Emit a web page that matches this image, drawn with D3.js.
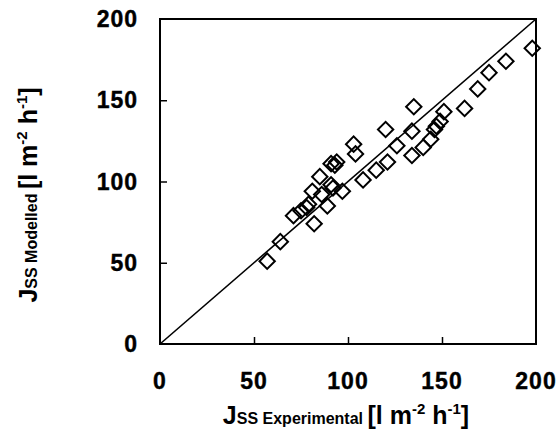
<!DOCTYPE html>
<html>
<head>
<meta charset="utf-8">
<script src="https://cdn.jsdelivr.net/npm/d3@7"></script>
<style>
  body { margin: 0; background: #fff; }
  svg text { font-family: "Liberation Sans", Arial, sans-serif; font-weight: bold; fill: #000; }
</style>
</head>
<body>
<svg id="chart" width="559" height="435"></svg>
<script>
// experimental vs modelled flux
var jExperimental = [57, 64, 71, 75, 79, 82, 85, 81, 89, 92, 91, 94, 93, 91, 97, 103, 104, 108, 115, 121,
    120, 126, 134, 135, 134, 144, 147, 149, 146, 140, 151, 162, 169, 175, 184, 198, 78, 86];
var jModelled = [51, 63, 79, 82, 86, 74, 103, 94, 85, 96, 111, 112, 110, 98, 94, 123, 117, 101, 107, 112,
    132, 122, 131, 146, 116, 126, 134, 137, 132, 121, 143, 145, 157, 167, 174, 182, 84, 92];
var xTicks = [0, 50, 100, 150, 200];
var yTicks = [0, 50, 100, 150, 200];

var margin = { top: 19, right: 23, bottom: 91, left: 160 };
var width = 559 - margin.left - margin.right,
    height = 435 - margin.top - margin.bottom;

var svg = d3.select('#chart');
var g = svg.append('g')
    .attr('transform', 'translate(' + margin.left + ',' + margin.top + ')');

var x = d3.scaleLinear().domain([0, 200]).range([0, width]);
var y = d3.scaleLinear().domain([0, 200]).range([height, 0]);

// inward ticks
g.append('g')
    .attr('transform', 'translate(0,' + height + ')')
    .call(d3.axisBottom(x).tickValues(xTicks.slice(1, -1)).tickSizeInner(-7).tickSizeOuter(0).tickFormat(''))
    .call(function (a) { a.select('.domain').remove(); a.selectAll('line').attr('stroke-width', 1.5); });

g.append('g')
    .call(d3.axisLeft(y).tickValues(yTicks.slice(1, -1)).tickSizeInner(-7).tickSizeOuter(0).tickFormat(''))
    .call(function (a) { a.select('.domain').remove(); a.selectAll('line').attr('stroke-width', 1.5); });

// tick labels
g.selectAll('.xlab').data(xTicks).enter().append('text')
    .attr('x', function (d) { return x(d); })
    .attr('y', height + 45)
    .attr('text-anchor', 'middle')
    .attr('font-size', 23)
    .attr('letter-spacing', 1)
    .attr('stroke', '#000').attr('stroke-width', 0.4)
    .text(function (d) { return d; });

g.selectAll('.ylab').data(yTicks).enter().append('text')
    .attr('x', -22)
    .attr('y', function (d) { return y(d) + 8; })
    .attr('text-anchor', 'end')
    .attr('font-size', 23)
    .attr('letter-spacing', 1)
    .attr('stroke', '#000').attr('stroke-width', 0.4)
    .text(function (d) { return d; });

// frame
g.append('rect')
    .attr('width', width)
    .attr('height', height)
    .attr('fill', 'none')
    .attr('stroke', '#000')
    .attr('stroke-width', 2);

// 1:1 line
g.append('line')
    .attr('x1', x(0)).attr('y1', y(0))
    .attr('x2', x(200)).attr('y2', y(200))
    .attr('stroke', '#000')
    .attr('stroke-width', 1.6);

// diamonds
var diamond = d3.symbol().type(d3.symbolSquare).size(118);
g.selectAll('.pt').data(jExperimental).enter().append('path')
    .attr('d', diamond)
    .attr('transform', function (d, i) {
        return 'translate(' + x(d) + ',' + y(jModelled[i]) + ') rotate(45)';
    })
    .attr('fill', 'none')
    .attr('stroke', '#000')
    .attr('stroke-width', 2);

// axis titles
function title(sel, sub) {
    sel.append('tspan').attr('font-size', 25).text('J');
    sel.append('tspan').attr('font-size', 16).text(sub + ' ');
    sel.append('tspan').attr('font-size', 25).text('[l m');
    sel.append('tspan').attr('font-size', 15).attr('dy', -10).text('-2');
    sel.append('tspan').attr('font-size', 25).attr('dy', 10).text(' h');
    sel.append('tspan').attr('font-size', 15).attr('dy', -10).text('-1');
    sel.append('tspan').attr('font-size', 25).attr('dy', 10).text(']');
}

title(svg.append('text')
    .attr('x', 346)
    .attr('y', 424)
    .attr('text-anchor', 'middle'), 'SS Experimental');

title(svg.append('text')
    .attr('transform', 'translate(37,195) rotate(-90)')
    .attr('text-anchor', 'middle'), 'SS Modelled');
</script>
</body>
</html>
